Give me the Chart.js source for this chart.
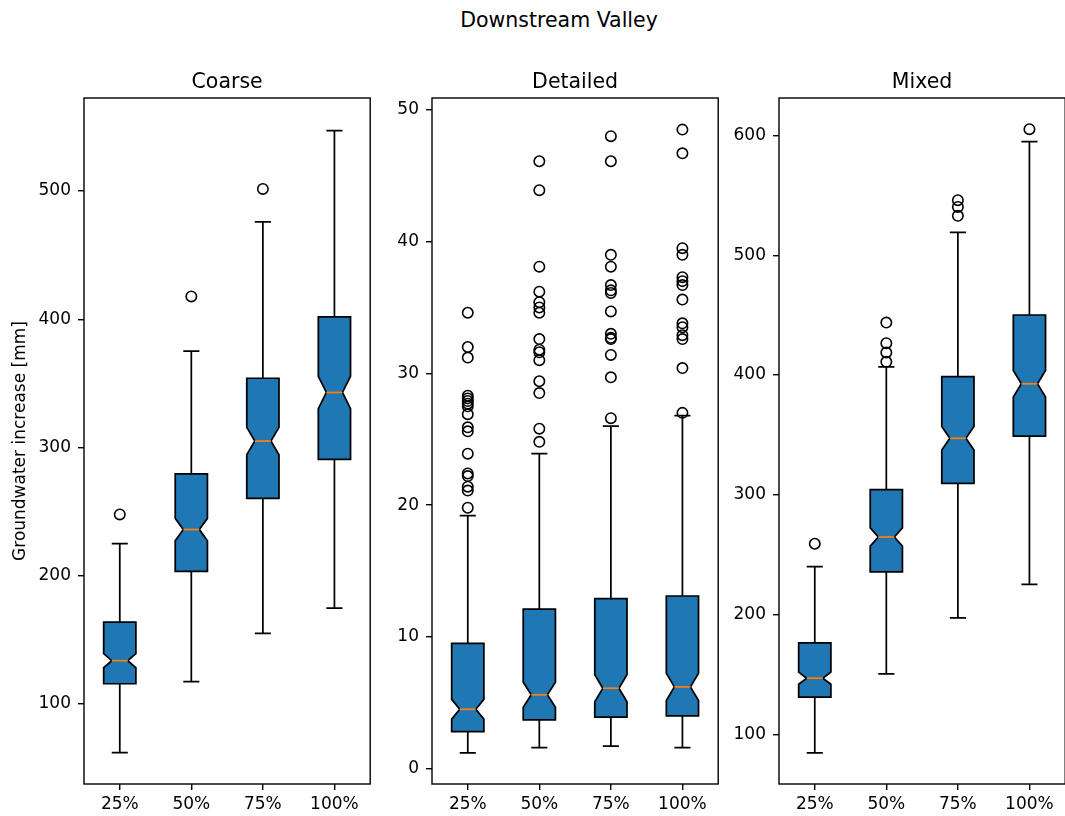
<!DOCTYPE html>
<html>
<head>
<meta charset="utf-8">
<title>Downstream Valley</title>
<script src="https://cdn.jsdelivr.net/npm/chart.js@4.4.1/dist/chart.umd.min.js"></script>
<style>
  html, body { margin: 0; padding: 0; width: 1065px; height: 816px; overflow: hidden; background: #fff; }
  #fig { position: relative; width: 1065px; height: 816px; overflow: hidden; }
  #fig canvas { position: absolute; top: 0; }
  #suptitle { position: absolute; left: 0; width: 1118px; top: 7px; text-align: center;
              font: 20.5px "DejaVu Sans"; color: #000; line-height: 26px; }
</style>
</head>
<body>
<div id="fig">
  <div id="suptitle">Downstream Valley</div>
  <canvas id="c0"></canvas>
  <canvas id="c1"></canvas>
  <canvas id="c2"></canvas>
</div>
<script>
// ---- data -------------------------------------------------------------
const categories = ['25%', '50%', '75%', '100%'];
const panelTitles = ['Coarse', 'Detailed', 'Mixed'];
const yAxisLabel = 'Groundwater increase [mm]';

// Coarse
const coarseWhisLo  = [62.0, 117.4, 155.0, 174.6];
const coarseQ1      = [115.7, 203.4, 260.3, 290.8];
const coarseNotchLo = [128.2, 227.3, 294.3, 330.3];
const coarseMedian  = [133.7, 236.0, 305.0, 342.9];
const coarseNotchHi = [139.2, 244.7, 315.7, 355.5];
const coarseQ3      = [163.8, 279.4, 354.0, 401.8];
const coarseWhisHi  = [225.0, 375.1, 476.0, 547.2];
const coarseFliers  = [[247.8], [417.8], [501.7], []];
const coarseYTicks  = [100, 200, 300, 400, 500];
const coarseYRange  = [37.5, 572.6];

// Detailed
const detailedWhisLo  = [1.2, 1.6, 1.7, 1.6];
const detailedQ1      = [2.8, 3.7, 3.9, 4.0];
const detailedNotchLo = [3.75, 4.65, 5.07, 5.16];
const detailedMedian  = [4.5, 5.6, 6.1, 6.2];
const detailedNotchHi = [5.25, 6.55, 7.13, 7.24];
const detailedQ3      = [9.5, 12.1, 12.9, 13.1];
const detailedWhisHi  = [19.2, 23.9, 26.0, 26.8];
const detailedFliers  = [
  [34.6, 32.0, 31.2, 28.3, 28.1, 27.9, 27.7, 27.5, 26.9, 25.9, 25.6, 23.9, 22.4, 22.2, 21.4, 21.1, 19.8],
  [46.1, 43.9, 38.1, 36.2, 35.4, 35.0, 34.6, 32.6, 31.8, 31.6, 31.0, 29.4, 28.5, 25.8, 24.8],
  [48.0, 46.1, 39.0, 38.1, 36.7, 36.3, 36.1, 34.7, 33.0, 32.7, 32.6, 31.4, 29.7, 26.6],
  [48.5, 46.7, 39.5, 39.0, 37.3, 37.0, 36.7, 35.6, 33.8, 33.5, 32.9, 32.6, 30.4, 27.0]
];
const detailedYTicks = [0, 10, 20, 30, 40, 50];
const detailedYRange = [-1.17, 50.9];

// Mixed
const mixedWhisLo  = [84.7, 150.7, 197.3, 225.3];
const mixedQ1      = [131.3, 235.7, 309.5, 349.1];
const mixedNotchLo = [141.9, 257.2, 337.4, 381.6];
const mixedMedian  = [147.0, 264.8, 347.2, 392.7];
const mixedNotchHi = [152.1, 272.4, 357.0, 403.8];
const mixedQ3      = [176.4, 304.3, 398.7, 450.1];
const mixedWhisHi  = [240.2, 406.9, 519.1, 594.8];
const mixedFliers  = [[259.2], [443.8, 426.6, 418.8, 411.0], [545.9, 540.3, 532.9], [605.2]];
const mixedYTicks  = [100, 200, 300, 400, 500, 600];
const mixedYRange  = [58.7, 631.2];

// ---- layout / style ---------------------------------------------------
const FONT = '"DejaVu Sans", "Liberation Sans", sans-serif';
const AREA_TOP = 98, AREA_BOTTOM = 784, AREA_W = 289, PAD_R = 4;
const areaLefts = [84, 432, 779];
const yAxisWidths = [84, 50, 50];
const BOX_W = 0.45;              // box width in x units
const CAP_W = BOX_W * 0.5;       // whisker cap width
const LW = 1.74;                 // line width of box elements
const BOX_FILL = '#1f77b4';
const MEDIAN_COLOR = '#ff7f0e';

const panels = [
  { title: panelTitles[0], lo: coarseWhisLo, q1: coarseQ1, nlo: coarseNotchLo, med: coarseMedian,
    nhi: coarseNotchHi, q3: coarseQ3, hi: coarseWhisHi, fliers: coarseFliers,
    ticks: coarseYTicks, range: coarseYRange, ylabel: true },
  { title: panelTitles[1], lo: detailedWhisLo, q1: detailedQ1, nlo: detailedNotchLo, med: detailedMedian,
    nhi: detailedNotchHi, q3: detailedQ3, hi: detailedWhisHi, fliers: detailedFliers,
    ticks: detailedYTicks, range: detailedYRange, ylabel: false },
  { title: panelTitles[2], lo: mixedWhisLo, q1: mixedQ1, nlo: mixedNotchLo, med: mixedMedian,
    nhi: mixedNotchHi, q3: mixedQ3, hi: mixedWhisHi, fliers: mixedFliers,
    ticks: mixedYTicks, range: mixedYRange, ylabel: false }
];

Chart.defaults.color = '#000';
Chart.defaults.font.family = FONT;

// Notched box-and-whisker drawing, positioned through the chart's scales
function notchedBoxPlugin(p) {
  return {
    id: 'notchedBoxes',
    beforeDatasetsDraw(chart) {
      const { ctx } = chart;
      const xs = chart.scales.x, ys = chart.scales.y;
      ctx.save();
      ctx.lineWidth = LW;
      ctx.strokeStyle = '#000';
      ctx.lineJoin = 'miter';
      ctx.lineCap = 'butt';
      categories.forEach((c, i) => {
        const pos = i + 1;
        const cx = xs.getPixelForValue(pos);
        const bl = xs.getPixelForValue(pos - BOX_W / 2);
        const br = xs.getPixelForValue(pos + BOX_W / 2);
        const nl = xs.getPixelForValue(pos - BOX_W / 4);
        const nr = xs.getPixelForValue(pos + BOX_W / 4);
        const kl = xs.getPixelForValue(pos - CAP_W / 2);
        const kr = xs.getPixelForValue(pos + CAP_W / 2);
        const yQ1 = ys.getPixelForValue(p.q1[i]);
        const yQ3 = ys.getPixelForValue(p.q3[i]);
        const yMed = ys.getPixelForValue(p.med[i]);
        const yNlo = ys.getPixelForValue(p.nlo[i]);
        const yNhi = ys.getPixelForValue(p.nhi[i]);
        const yLo = ys.getPixelForValue(p.lo[i]);
        const yHi = ys.getPixelForValue(p.hi[i]);

        // whiskers and caps
        ctx.beginPath();
        ctx.moveTo(cx, yQ1); ctx.lineTo(cx, yLo);
        ctx.moveTo(cx, yQ3); ctx.lineTo(cx, yHi);
        ctx.moveTo(kl, yLo); ctx.lineTo(kr, yLo);
        ctx.moveTo(kl, yHi); ctx.lineTo(kr, yHi);
        ctx.stroke();

        // notched box
        ctx.beginPath();
        ctx.moveTo(bl, yQ1);
        ctx.lineTo(br, yQ1);
        ctx.lineTo(br, yNlo);
        ctx.lineTo(nr, yMed);
        ctx.lineTo(br, yNhi);
        ctx.lineTo(br, yQ3);
        ctx.lineTo(bl, yQ3);
        ctx.lineTo(bl, yNhi);
        ctx.lineTo(nl, yMed);
        ctx.lineTo(bl, yNlo);
        ctx.closePath();
        ctx.fillStyle = BOX_FILL;
        ctx.fill();
        ctx.stroke();

        // median
        ctx.beginPath();
        ctx.strokeStyle = MEDIAN_COLOR;
        ctx.moveTo(nl, yMed); ctx.lineTo(nr, yMed);
        ctx.stroke();
        ctx.strokeStyle = '#000';
      });
      ctx.restore();
    },
    afterDraw(chart) {
      const { ctx, chartArea: a } = chart;
      ctx.save();
      // axes frame
      ctx.lineWidth = 1.4;
      ctx.strokeStyle = '#000';
      ctx.strokeRect(a.left, a.top, a.right - a.left, a.bottom - a.top);
      // panel title
      ctx.fillStyle = '#000';
      ctx.font = '20.5px ' + FONT;
      ctx.textAlign = 'center';
      ctx.textBaseline = 'alphabetic';
      ctx.fillText(p.title, (a.left + a.right) / 2, a.top - 10);
      ctx.restore();
    }
  };
}

panels.forEach((p, k) => {
  const canvas = document.getElementById('c' + k);
  const w = yAxisWidths[k] + AREA_W + PAD_R;
  canvas.width = w;
  canvas.height = 816;
  canvas.style.left = (areaLefts[k] - yAxisWidths[k]) + 'px';
  canvas.style.width = w + 'px';
  canvas.style.height = '816px';

  const flierPoints = [];
  p.fliers.forEach((arr, i) => arr.forEach(v => flierPoints.push({ x: i + 1, y: v })));

  new Chart(canvas, {
    type: 'scatter',
    data: {
      datasets: [{
        data: flierPoints,
        pointRadius: 5.2,
        pointHoverRadius: 5.2,
        borderWidth: 1.6,
        borderColor: '#000',
        backgroundColor: 'rgba(0,0,0,0)',
        showLine: false,
        clip: false
      }]
    },
    options: {
      responsive: false,
      animation: false,
      devicePixelRatio: 1,
      events: [],
      layout: { padding: { top: AREA_TOP, right: PAD_R, left: 0, bottom: 0 } },
      plugins: { legend: { display: false }, tooltip: { enabled: false }, title: { display: false } },
      scales: {
        x: {
          type: 'linear',
          min: 0.5,
          max: 4.5,
          afterBuildTicks(s) { s.ticks = categories.map((c, i) => ({ value: i + 1 })); },
          afterFit(s) { s.height = 816 - AREA_BOTTOM; },
          grid: { drawOnChartArea: false, drawTicks: true, tickLength: 6, color: '#000', lineWidth: 1.4 },
          border: { display: false },
          ticks: {
            autoSkip: false, maxRotation: 0, padding: 4,
            font: { size: 17, family: FONT }, color: '#000',
            callback: (v) => categories[Math.round(v) - 1]
          }
        },
        y: {
          type: 'linear',
          min: p.range[0],
          max: p.range[1],
          afterBuildTicks(s) { s.ticks = p.ticks.map(v => ({ value: v })); },
          afterFit(s) { s.width = yAxisWidths[k]; },
          grid: { drawOnChartArea: false, drawTicks: true, tickLength: 6, color: '#000', lineWidth: 1.4 },
          border: { display: false },
          ticks: { padding: 7, font: { size: 17, family: FONT }, color: '#000', callback: (v) => String(v) },
          title: {
            display: p.ylabel,
            text: yAxisLabel,
            font: { size: 17, family: FONT },
            color: '#000',
            padding: { top: 10, bottom: 0 }
          }
        }
      }
    },
    plugins: [notchedBoxPlugin(p)]
  });
});
</script>
</body>
</html>
